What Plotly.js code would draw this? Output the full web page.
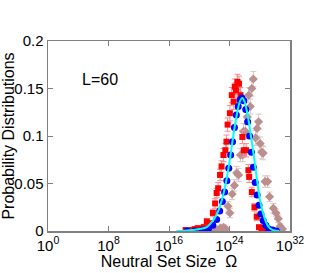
<!DOCTYPE html>
<html>
<head>
<meta charset="utf-8">
<script src="https://cdn.plot.ly/plotly-3.0.1.min.js"></script>
<style>html,body{margin:0;padding:0;background:#fff;}#chart{width:327px;height:273px;}</style>
</head>
<body>
<div id="chart"></div>
<script>
// exponents (log10 of Omega) and probabilities
var redExp = [18.2,18.6,19.0,19.4,19.8,20.2,20.6,21.0,21.4,21.8,22.1,22.3,22.5,22.75,22.95,23.2,23.45,23.6,23.75,24.05,24.3,24.55,24.7,24.85,25.05,25.25,25.45,25.7,25.9,26.2,26.5,26.6,26.95,27.3,27.6,27.9,28.25,28.6,29.0,29.3];
var redP   = [0.001,0.000,0.001,0.002,0.003,0.002,0.004,0.010,0.008,0.019,0.029,0.040,0.045,0.059,0.068,0.080,0.085,0.094,0.112,0.124,0.143,0.136,0.152,0.148,0.157,0.155,0.143,0.099,0.085,0.085,0.064,0.057,0.041,0.025,0.015,0.004,0.003,0.002,0.001,0.000];
var redErr = [0.002,0.002,0.002,0.002,0.002,0.002,0.003,0.003,0.003,0.004,0.005,0.005,0.006,0.006,0.006,0.007,0.007,0.007,0.007,0.008,0.008,0.008,0.008,0.008,0.008,0.008,0.008,0.007,0.007,0.007,0.006,0.006,0.005,0.004,0.004,0.002,0.002,0.002,0.002,0.002];

var rosyExp = [21.6,22.0,22.4,22.8,23.2,23.5,23.8,24.05,24.35,24.65,24.95,25.2,25.45,25.75,25.85,26.1,26.35,26.55,26.75,26.95,27.15,27.45,27.65,27.85,28.05,28.25,28.45,28.7,29.05,29.3,29.8,30.15,30.45,30.7,31.0];
var rosyP   = [0.000,0.002,0.001,0.003,0.004,0.002,0.026,0.019,0.039,0.048,0.061,0.059,0.080,0.080,0.105,0.105,0.120,0.143,0.131,0.150,0.160,0.098,0.108,0.115,0.092,0.083,0.082,0.052,0.052,0.036,0.024,0.019,0.013,0.005,0.002];
var rosyErr = [0.002,0.002,0.002,0.003,0.003,0.003,0.005,0.005,0.006,0.006,0.007,0.007,0.007,0.007,0.008,0.008,0.008,0.008,0.008,0.008,0.008,0.008,0.008,0.008,0.007,0.007,0.007,0.006,0.006,0.005,0.005,0.004,0.004,0.003,0.002];

var blueExp = [18.4,19.4,20.4,21.2,21.8,22.3,22.7,23.05,23.35,23.65,23.9,24.15,24.4,24.65,24.9,25.15,25.4,25.65,25.9,26.15,26.4,26.65,26.9,27.15,27.4,27.65,27.9,28.15,28.45,28.8,29.2,29.7,30.2];
var blueP   = [0.000,0.000,0.001,0.002,0.006,0.012,0.021,0.031,0.041,0.053,0.066,0.080,0.094,0.109,0.122,0.131,0.138,0.140,0.137,0.128,0.115,0.100,0.083,0.067,0.051,0.038,0.027,0.018,0.011,0.006,0.002,0.001,0.000];

var fitExp = [17.0,18.0,19.0,20.0,21.0,21.5,22.0,22.5,23.0,23.5,24.0,24.5,25.0,25.4,25.7,26.0,26.4,26.8,27.2,27.6,28.0,28.4,28.8,29.2,29.6,30.0,30.6];
var fitP   = [0.000,0.0003,0.001,0.002,0.004,0.008,0.013,0.021,0.033,0.050,0.073,0.100,0.124,0.137,0.140,0.136,0.122,0.102,0.080,0.056,0.034,0.020,0.010,0.004,0.0015,0.0005,0.000];

var xTickExp = [0, 8, 16, 24, 32];
var xTickText = ["10<sup>0</sup>","10<sup>8</sup>","10<sup>16</sup>","10<sup>24</sup>","10<sup>32</sup>"];
var yTickVals = [0, 0.05, 0.1, 0.15, 0.2];
var yTickText = ["0","0.05","0.1","0.15","0.2"];

function pw(a){ return a.map(function(e){ return Math.pow(10, e); }); }

var traces = [
  {x: pw(rosyExp), y: rosyP, type:'scatter', mode:'markers',
   marker:{symbol:'diamond', size:7, color:'#bc8f8f'},
   error_y:{type:'data', array:rosyErr, visible:true, color:'#dcc6c6', thickness:1, width:3}},
  {x: pw(redExp), y: redP, type:'scatter', mode:'markers',
   marker:{symbol:'square', size:6, color:'#ff0000'},
   error_y:{type:'data', array:redErr, visible:true, color:'#ff8a8a', thickness:1, width:3}},
  {x: pw(blueExp), y: blueP, type:'scatter', mode:'markers',
   marker:{symbol:'circle', size:7, color:'#0000ff'}},
  {x: pw(fitExp), y: fitP, type:'scatter', mode:'lines',
   line:{color:'#00ffff', width:2, shape:'spline'}}
];

var axisFont = {family:'"Liberation Sans", Arial, sans-serif', size:15, color:'#000'};
var layout = {
  width:327, height:273,
  margin:{l:48, r:37, t:41, b:42, pad:0},
  paper_bgcolor:'#fff', plot_bgcolor:'#fff',
  showlegend:false,
  hovermode:false,
  font: axisFont,
  xaxis:{type:'log', range:[0,32], tickmode:'array',
    tickvals: pw(xTickExp), ticktext: xTickText,
    ticks:'inside', ticklen:5, tickcolor:'#808080', tickwidth:1,
    showline:true, linecolor:'#808080', linewidth:1.5, mirror:'ticks',
    showgrid:false, zeroline:false,
    tickfont:{family:'"Liberation Sans", Arial, sans-serif', size:15, color:'#000'},
    title:{text:'Neutral Set Size  Ω', font:{family:'"Liberation Sans", Arial, sans-serif', size:16, color:'#000'}, standoff:2}},
  yaxis:{range:[0,0.2], tickmode:'array', tickvals:yTickVals, ticktext:yTickText,
    ticks:'inside', ticklen:5, tickcolor:'#808080', tickwidth:1,
    showline:true, linecolor:'#808080', linewidth:1.5, mirror:'ticks',
    showgrid:false, zeroline:false,
    tickfont:{family:'"Liberation Sans", Arial, sans-serif', size:15, color:'#000'},
    title:{text:'Probability Distributions', font:{family:'"Liberation Sans", Arial, sans-serif', size:16, color:'#000'}, standoff:4}},
  annotations:[{text:'L=60', xref:'paper', yref:'paper', x:0.213, y:0.80,
    showarrow:false, xanchor:'center', yanchor:'middle',
    font:{family:'"Liberation Sans", Arial, sans-serif', size:16, color:'#000'}}]
};

Plotly.newPlot('chart', traces, layout, {displayModeBar:false, staticPlot:true});
</script>
</body>
</html>
